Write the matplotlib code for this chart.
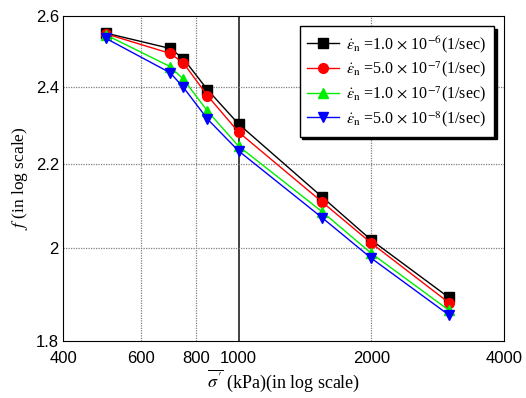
import matplotlib.pyplot as plt
from matplotlib.ticker import FixedLocator, NullLocator

# Données
contrainte = [500, 700, 750, 850, 1000, 1550, 2000, 3000]
f_1e6 = [2.550, 2.506, 2.477, 2.392, 2.301, 2.118, 2.018, 1.891]
f_5e7 = [2.548, 2.492, 2.465, 2.376, 2.280, 2.106, 2.011, 1.880]
f_1e7 = [2.545, 2.455, 2.420, 2.335, 2.244, 2.083, 1.988, 1.864]
f_5e8 = [2.535, 2.438, 2.398, 2.314, 2.232, 2.069, 1.977, 1.854]

labels = [r"$\dot{\varepsilon}_{\rm n}$ =1.0 $\times$ 10$^{-6}$(1/sec)",
          r"$\dot{\varepsilon}_{\rm n}$ =5.0 $\times$ 10$^{-7}$(1/sec)",
          r"$\dot{\varepsilon}_{\rm n}$ =1.0 $\times$ 10$^{-7}$(1/sec)",
          r"$\dot{\varepsilon}_{\rm n}$ =5.0 $\times$ 10$^{-8}$(1/sec)"]

xticks = [400, 600, 800, 1000, 2000, 4000]
yticks = [1.8, 2.0, 2.2, 2.4, 2.6]

plt.rcParams['mathtext.fontset'] = 'stix'
plt.rcParams['font.family'] = 'Liberation Serif'

fig = plt.figure(figsize=(5.26, 3.98), dpi=100)
ax = fig.add_axes([0.12, 0.143, 0.838, 0.817])
ax.set_xscale('log')
ax.set_yscale('log')

series = [f_1e6, f_5e7, f_1e7, f_5e8]
couleurs = ['black', 'red', '#00ee00', 'blue']
marqueurs = ['s', 'o', '^', 'v']
for vals, c, m, lab in zip(series, couleurs, marqueurs, labels):
    ax.plot(contrainte, vals, color=c, marker=m, markersize=7, lw=1,
            label=lab, zorder=3)

ax.set_xlim(400, 4000)
ax.set_ylim(1.8, 2.6)
ax.xaxis.set_major_locator(FixedLocator(xticks))
ax.xaxis.set_minor_locator(NullLocator())
ax.yaxis.set_major_locator(FixedLocator(yticks))
ax.yaxis.set_minor_locator(NullLocator())
ax.set_xticklabels(['400', '600', '800', '1000', '2000', '4000'],
                   family='Liberation Sans', fontsize=12)
ax.set_yticklabels(['1.8', '2', '2.2', '2.4', '2.6'],
                   family='Liberation Sans', fontsize=12)
ax.tick_params(axis='y', length=0, pad=3)
ax.tick_params(axis='x', length=0, pad=7)

# Grille
for xv in [600, 800, 2000]:
    ax.axvline(xv, color='gray', ls=(0, (1, 1)), lw=0.9, zorder=1)
ax.axvline(1000, color='#333333', lw=1.3, zorder=1)
for yv in [2.0, 2.2, 2.4]:
    ax.axhline(yv, color='gray', ls=(0, (1, 1)), lw=0.9, zorder=1)

ax.set_xlabel(r"$\overline{\sigma'}$ (kPa)(in log scale)", fontsize=13, labelpad=1)
ax.set_ylabel(r"$f$ (in log scale)", fontsize=12.5, labelpad=4)

leg = ax.legend(loc='upper right', bbox_to_anchor=(0.977, 0.969), fontsize=11.5,
                fancybox=False, edgecolor='black', framealpha=1,
                shadow={'color': 'black', 'alpha': 1},
                handlelength=2.0, handletextpad=0.4, labelspacing=0.3,
                borderpad=0.5, borderaxespad=0)
leg.get_frame().set_linewidth(1)

plt.savefig("out.png", dpi=100)
